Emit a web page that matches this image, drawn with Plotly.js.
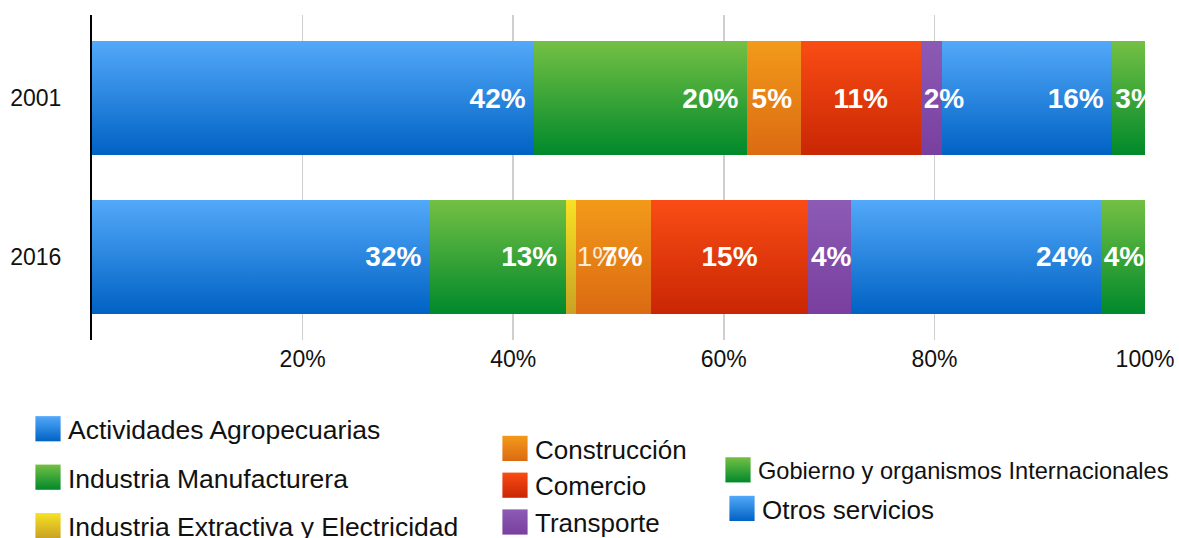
<!DOCTYPE html>
<html><head><meta charset="utf-8">
<script src="https://cdn.plot.ly/plotly-3.0.1.min.js"></script>
<style>html,body{margin:0;padding:0;background:#fff}#chart{width:1179px;height:538px}</style>
</head><body><div id="chart"></div>
<script>
// ---- data ----
const years = ['2001', '2016'];
const sectors = ['Actividades Agropecuarias', 'Industria Manufacturera', 'Industria Extractiva y Electricidad',
  'Construcción', 'Comercio', 'Transporte', 'Otros servicios', 'Gobierno y organismos Internacionales'];
const agro       = [42.0, 32.1];
const manuf      = [20.2, 12.9];
const extractiva = [0.0, 1.0];
const construc   = [5.1, 7.1];
const comercio   = [11.4, 14.9];
const transporte = [2.0, 4.1];
const otros      = [16.2, 23.7];
const gobierno   = [3.1, 4.2];
const xTickVals = [20, 40, 60, 80, 100];
const xTickText = ['20%', '40%', '60%', '80%', '100%'];

// ---- styles ----
const series = [agro, manuf, extractiva, construc, comercio, transporte, otros, gobierno];
const topColors = ['#53a9f9', '#74c044', '#f8e224', '#f29a1a', '#fa4d15', '#8c5bb4', '#53a9f9', '#74c044'];
const botColors = ['#0062c4', '#00892b', '#c8a224', '#dc6a12', '#c92604', '#793f9f', '#0062c4', '#00892b'];
const midColors = ['#2a86de', '#3aa538', '#e0c224', '#e8821a', '#e23a0c', '#834daa', '#2a86de', '#3aa538'];
const anchors = ['end', 'end', 'start', 'end', 'middle', 'start', 'end', 'start'];
const legendOf = ['legend', 'legend', 'legend', 'legend2', 'legend2', 'legend2', 'legend3', 'legend4'];
const FONT = 'Liberation Sans, Arial, Helvetica, sans-serif';

function labelText(v, i) {
  if (!v) return '';
  const t = Math.round(v) + '%';
  if (anchors[i] === 'end') return t + '\u2009';
  if (i === 2) return '\u00a0' + t;
  return t;
}

const traces = series.map((vals, i) => ({
  type: 'bar',
  orientation: 'h',
  name: sectors[i],
  y: years,
  x: vals,
  text: vals.map(v => labelText(v, i)),
  textposition: 'inside',
  insidetextanchor: anchors[i],
  constraintext: 'none',
  textangle: 0,
  cliponaxis: true,
  textfont: {family: FONT, size: 28, color: i === 2 ? 'rgba(255,255,255,0.85)' : '#ffffff', weight: i === 2 ? 'normal' : 'bold'},
  insidetextfont: {family: FONT, size: 28, color: i === 2 ? 'rgba(255,255,255,0.85)' : '#ffffff', weight: i === 2 ? 'normal' : 'bold'},
  marker: {color: midColors[i], line: {width: 0}},
  legend: legendOf[i],
  legendgroup: sectors[i],
  hovertemplate: '%{y}: %{x:.1f}%<extra>' + sectors[i] + '</extra>'
}));

// plot area in pixels: x 92..1145, y 15..340
const PL = 92, PR = 1145, PT = 15, PB = 340;
function legendCfg(xpx, ypx, size, gap) {
  return {
    x: (xpx - PL) / (PR - PL), y: (PB - ypx) / (PB - PT), xref: 'paper', yref: 'paper',
    xanchor: 'left', yanchor: 'top', orientation: 'v',
    font: {family: FONT, size: size, color: '#111111'},
    bgcolor: 'rgba(0,0,0,0)', borderwidth: 0,
    traceorder: 'grouped', tracegroupgap: gap
  };
}

const layout = {
  width: 1179, height: 538,
  margin: {l: PL, r: 1179 - PR, t: PT, b: 538 - PB, pad: 0, autoexpand: false},
  paper_bgcolor: '#ffffff', plot_bgcolor: '#ffffff',
  font: {family: FONT, color: '#111111'},
  barmode: 'stack',
  bargap: 0.28,
  showlegend: true,
  xaxis: {
    range: [0, 100], tickvals: xTickVals, ticktext: xTickText,
    showgrid: true, gridcolor: '#cfcfcf', gridwidth: 1.5, zeroline: false,
    ticks: '', ticklabelstandoff: 3,
    tickfont: {family: FONT, size: 23, color: '#111111'}, fixedrange: true, automargin: false
  },
  yaxis: {
    type: 'category', categoryorder: 'array', categoryarray: years,
    range: [1.525, -0.525], showgrid: false, zeroline: false,
    showline: true, linecolor: '#000000', linewidth: 2,
    ticks: 'outside', ticklen: 24, tickcolor: 'rgba(0,0,0,0)',
    tickfont: {family: FONT, size: 23, color: '#111111'}, fixedrange: true, automargin: false
  },
  legend: legendCfg(28, 405, 26.5, 11),
  legend2: legendCfg(495, 425, 26, 0),
  legend3: legendCfg(722, 485, 26, 0),
  legend4: legendCfg(718, 448, 23.6, 0)
};

const gd = document.getElementById('chart');
const SVGNS = 'http://www.w3.org/2000/svg';

function applyGradients() {
  const svg = gd.querySelector('svg.main-svg');
  if (!svg) return;
  let defs = svg.querySelector('defs');
  if (!defs) { defs = document.createElementNS(SVGNS, 'defs'); svg.insertBefore(defs, svg.firstChild); }
  series.forEach((_, i) => {
    const id = 'bargrad' + i;
    if (document.getElementById(id)) return;
    const lg = document.createElementNS(SVGNS, 'linearGradient');
    lg.setAttribute('id', id);
    lg.setAttribute('x1', '0'); lg.setAttribute('y1', '0');
    lg.setAttribute('x2', '0'); lg.setAttribute('y2', '1');
    [[0, topColors[i]], [1, botColors[i]]].forEach(([o, c]) => {
      const s = document.createElementNS(SVGNS, 'stop');
      s.setAttribute('offset', o); s.setAttribute('stop-color', c);
      lg.appendChild(s);
    });
    defs.appendChild(lg);
  });
  const barTraces = gd.querySelectorAll('.barlayer .trace');
  barTraces.forEach(g => {
    const d = g.__data__; if (!d || !d[0] || !d[0].trace) return;
    const idx = d[0].trace.index;
    g.querySelectorAll('.point path').forEach(p => { p.style.fill = 'url(#bargrad' + idx + ')'; });
  });
  // lift all bar labels above every bar so overflowing labels stay visible
  const barlayer = gd.querySelector('.barlayer');
  if (barlayer && barTraces.length) {
    let top = barlayer.querySelector('g.toplabels');
    if (!top) {
      top = document.createElementNS(SVGNS, 'g');
      top.setAttribute('class', 'toplabels');
      const cp = barTraces[0].getAttribute('clip-path');
      if (cp) top.setAttribute('clip-path', cp);
      barlayer.appendChild(top);
    }
    barTraces.forEach(g => {
      g.querySelectorAll('.point text').forEach(t => top.appendChild(t));
    });
  }
  gd.querySelectorAll('g.traces').forEach(g => {
    const d = g.__data__; if (!d || !d[0] || !d[0].trace) return;
    const idx = d[0].trace.index;
    const p = g.querySelector('.legendpoints path');
    if (!p) return;
    p.style.fill = 'url(#bargrad' + idx + ')';
    if (!p.dataset.scaled) {
      const tr = p.getAttribute('transform') || '';
      p.setAttribute('transform', tr + ' scale(2.1)');
      p.dataset.scaled = '1';
    }
  });
}

Plotly.newPlot(gd, traces, layout, {displayModeBar: false, staticPlot: true}).then(() => {
  applyGradients();
  gd.on && gd.on('plotly_afterplot', applyGradients);
});
</script>
</body></html>
